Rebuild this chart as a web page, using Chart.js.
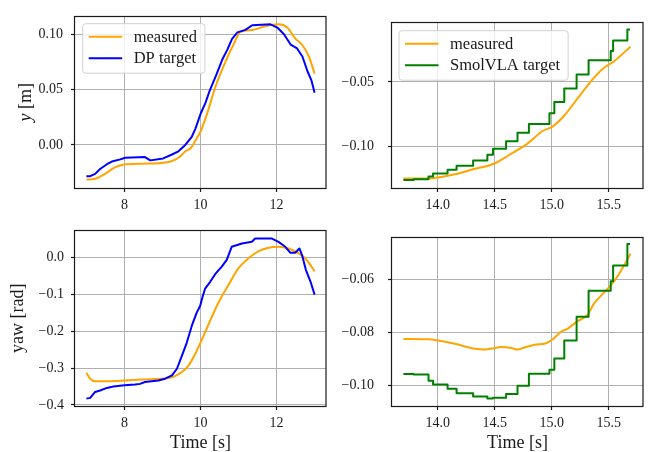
<!DOCTYPE html>
<html><head><meta charset="utf-8">
<script src="https://cdn.jsdelivr.net/npm/chart.js@4.4.1/dist/chart.umd.min.js"></script>
<style>
html,body{margin:0;padding:0;background:#fff;width:649px;height:452px;overflow:hidden}
canvas{position:absolute}
</style></head><body>
<canvas id="tl" width="330" height="215" style="left:0;top:0"></canvas>
<canvas id="tr" width="319" height="215" style="left:330px;top:0"></canvas>
<canvas id="bl" width="330" height="237" style="left:0;top:215px"></canvas>
<canvas id="br" width="319" height="237" style="left:330px;top:215px"></canvas>
<script>
// ---------- DATA ----------
// Top-left: y [m], DP policy
const tMeasY_DP = [7.0,7.23,7.49,7.75,7.93,8.1,8.5,8.89,9.25,9.45,9.6,9.74,9.87,10.0,10.1,10.2,10.39,10.66,10.88,11.05,11.36,11.71,12.06,12.28,12.5,12.68,12.85,13.0];
const measY_DP  = [-0.0314,-0.0306,-0.0262,-0.0204,-0.0181,-0.0175,-0.017,-0.0166,-0.0146,-0.011,-0.0058,-0.003,0.004,0.012,0.021,0.031,0.0524,0.0756,0.0917,0.1024,0.1039,0.1076,0.1091,0.1062,0.096,0.0902,0.08,0.0646];
const tTgtY_DP  = [7.0,7.1,7.23,7.36,7.54,7.67,7.89,8.02,8.54,8.68,9.02,9.25,9.42,9.6,9.77,9.87,10.0,10.13,10.24,10.41,10.57,10.7,10.83,10.97,11.18,11.36,11.84,12.02,12.19,12.37,12.54,12.68,12.81,12.92,13.0];
const tgtY_DP   = [-0.0283,-0.0283,-0.0262,-0.0218,-0.0175,-0.0151,-0.0131,-0.0116,-0.011,-0.014,-0.0122,-0.0087,-0.0058,0.0,0.0073,0.015,0.028,0.038,0.049,0.063,0.077,0.0858,0.096,0.1018,0.1041,0.1083,0.1091,0.1062,0.1004,0.0908,0.0873,0.08,0.0669,0.0581,0.0471];

// Bottom-left: yaw [rad], DP policy
const tMeasYaw_DP = [7.0,7.1,7.23,7.58,8.0,8.46,9.16,9.33,9.51,9.68,9.86,10.04,10.21,10.47,10.74,11.0,11.26,11.53,11.79,12.05,12.32,12.58,12.75,12.89,13.0];
const measYaw_DP  = [-0.313,-0.329,-0.336,-0.336,-0.334,-0.331,-0.327,-0.322,-0.311,-0.294,-0.262,-0.222,-0.182,-0.123,-0.074,-0.0295,-0.0027,0.017,0.026,0.0286,0.024,0.0107,-0.0027,-0.0206,-0.0385];
const tTgtYaw_DP  = [7.0,7.1,7.23,7.36,7.54,7.71,8.0,8.28,8.41,8.54,8.89,9.07,9.25,9.38,9.51,9.64,9.77,9.9,9.99,10.06,10.12,10.25,10.39,10.56,10.69,10.82,11.09,11.35,11.44,11.88,12.05,12.23,12.36,12.49,12.6,12.67,12.77,12.89,13.0];
const tgtYaw_DP   = [-0.383,-0.381,-0.365,-0.361,-0.354,-0.35,-0.347,-0.345,-0.343,-0.338,-0.334,-0.329,-0.320,-0.302,-0.267,-0.231,-0.186,-0.150,-0.132,-0.105,-0.085,-0.067,-0.045,-0.025,-0.007,0.0286,0.0376,0.042,0.051,0.051,0.042,0.0286,0.0125,0.0125,0.024,0.006,-0.034,-0.065,-0.101];

// Top-right: y [m], SmolVLA policy
const tMeasY_VLA = [13.70,13.92,14.006,14.15,14.297,14.5,14.616,14.79,14.92,15.01,15.11,15.227,15.343,15.445,15.547,15.69];
const measY_VLA  = [-0.1248,-0.1248,-0.124,-0.1216,-0.118,-0.1132,-0.1072,-0.0976,-0.088,-0.0844,-0.076,-0.0627,-0.0495,-0.0399,-0.0339,-0.0226];
// SmolVLA target: step start times (shared by both targets)
const tTgt_VLA   = [13.70,13.79,13.92,13.96,14.087,14.166,14.311,14.436,14.485,14.60,14.70,14.80,14.98,15.023,15.11,15.218,15.323,15.517,15.538,15.663,15.686];
const tgtY_VLA   = [-0.126,-0.1255,-0.1233,-0.1209,-0.118,-0.1149,-0.1108,-0.1065,-0.1017,-0.0959,-0.0894,-0.0825,-0.0743,-0.0656,-0.055,-0.0442,-0.0332,-0.026,-0.0178,-0.0094,-0.0094];

// Bottom-right: yaw [rad], SmolVLA policy
const tMeasYaw_VLA = [13.70,13.92,14.006,14.15,14.326,14.41,14.47,14.558,14.645,14.70,14.76,14.85,14.95,15.01,15.08,15.14,15.227,15.314,15.37,15.46,15.547,15.634,15.69];
const measYaw_VLA  = [-0.0825,-0.0826,-0.0831,-0.0843,-0.0862,-0.0865,-0.0861,-0.0855,-0.0859,-0.0865,-0.0857,-0.0847,-0.0841,-0.0826,-0.0798,-0.0786,-0.0758,-0.0734,-0.0692,-0.065,-0.0608,-0.0549,-0.0504];
const tgtYaw_VLA   = [-0.0957,-0.0959,-0.0982,-0.0996,-0.1012,-0.1029,-0.1041,-0.1049,-0.1046,-0.1032,-0.1001,-0.0956,-0.0941,-0.0898,-0.0831,-0.0741,-0.0644,-0.0608,-0.0549,-0.0468,-0.0468];

// Ticks
const xTicksDP = [8,10,12];
const xTickLabelsDP = ['8','10','12'];
const xTicksVLA = [14.0,14.5,15.0,15.5];
const xTickLabelsVLA = ['14.0','14.5','15.0','15.5'];
const yTicksTL = [0.0,0.05,0.10];
const yTickLabelsTL = ['0.00','0.05','0.10'];
const yTicksTR = [-0.10,-0.05];
const yTickLabelsTR = ['\u22120.10','\u22120.05'];
const yTicksBL = [-0.4,-0.3,-0.2,-0.1,0.0];
const yTickLabelsBL = ['\u22120.4','\u22120.3','\u22120.2','\u22120.1','0.0'];
const yTicksBR = [-0.10,-0.08,-0.06];
const yTickLabelsBR = ['\u22120.10','\u22120.08','\u22120.06'];

const legendDP = ['measured','DP target'];
const legendVLA = ['measured','SmolVLA target'];
const xTitle = 'Time [s]';
const yawTitle = 'yaw [rad]';

// ---------- STYLE ----------
const FONT = "'Liberation Serif', 'Times New Roman', serif";
const INK = '#1a1a1a';
const GRIDC = '#b0b0b0';
const ORANGE = '#FFA500', BLUE = '#0000FF', GREEN = '#008000';

const pts = (t, v) => t.map((x, i) => ({x, y: v[i]}));

const mplPlugin = {
  id: 'mpl',
  afterDatasetsDraw(chart) {
    const o = chart.options.plugins.mpl || {};
    const a = chart.chartArea, c = chart.ctx;
    c.save();
    if (o.legend) {
      c.font = '16.5px ' + FONT;
      const bx = a.left + o.legend.dx, by = a.top + o.legend.dy;
      let tw = 0;
      o.legend.items.forEach(it => { tw = Math.max(tw, c.measureText(it.label).width); });
      const bw = 51 + tw + 8, bh = 49.5, r = 3;
      c.beginPath();
      c.moveTo(bx + r, by); c.lineTo(bx + bw - r, by); c.arcTo(bx + bw, by, bx + bw, by + r, r);
      c.lineTo(bx + bw, by + bh - r); c.arcTo(bx + bw, by + bh, bx + bw - r, by + bh, r);
      c.lineTo(bx + r, by + bh); c.arcTo(bx, by + bh, bx, by + bh - r, r);
      c.lineTo(bx, by + r); c.arcTo(bx, by, bx + r, by, r); c.closePath();
      c.fillStyle = 'rgba(255,255,255,0.8)'; c.fill();
      c.strokeStyle = '#d0d0d0'; c.lineWidth = 1; c.stroke();
      o.legend.items.forEach((it, i) => {
        const yy = by + 13 + i * 21.5;
        c.strokeStyle = it.color; c.lineWidth = 2;
        c.beginPath(); c.moveTo(bx + 6, yy); c.lineTo(bx + 39.5, yy); c.stroke();
        c.fillStyle = INK; c.textAlign = 'left'; c.textBaseline = 'middle';
        c.fillText(it.label, bx + 51, yy + 0.5);
      });
    }
    c.restore();
  },
  afterDraw(chart) {
    const o = chart.options.plugins.mpl || {};
    const a = chart.chartArea, c = chart.ctx;
    c.save();
    c.strokeStyle = INK; c.lineWidth = 1.2;
    c.strokeRect(Math.round(a.left) - 0.5, Math.round(a.top) + 0.5, Math.round(a.right) - Math.round(a.left) + 0.5, Math.round(a.bottom) - Math.round(a.top));
    if (o.yLabelItalic) {
      const cy = (a.top + a.bottom) / 2;
      c.translate(o.yLabelItalic.x, cy);
      c.rotate(-Math.PI / 2);
      c.textBaseline = 'middle'; c.textAlign = 'left'; c.fillStyle = INK;
      c.font = 'italic 18px ' + FONT;
      const w1 = c.measureText(o.yLabelItalic.ital).width;
      c.font = '18px ' + FONT;
      const w2 = c.measureText(o.yLabelItalic.rest).width;
      const x0 = -(w1 + w2) / 2;
      c.font = 'italic 18px ' + FONT;
      c.fillText(o.yLabelItalic.ital, x0, 0);
      c.font = '18px ' + FONT;
      c.fillText(o.yLabelItalic.rest, x0 + w1, 0);
    }
    c.restore();
  }
};

function makeChart(id, cfg) {
  const gridOpts = {color: GRIDC, lineWidth: 1, tickColor: INK, tickLength: 4, tickWidth: 1.2, drawTicks: true};
  return new Chart(document.getElementById(id), {
    type: 'line',
    data: {datasets: cfg.datasets},
    options: {
      responsive: false, animation: false, devicePixelRatio: 1,
      layout: {padding: {top: cfg.padTop, right: cfg.padRight, left: 0, bottom: 0}},
      elements: {point: {radius: 0, hoverRadius: 0}, line: {borderWidth: 2, borderCapStyle: 'butt', borderJoinStyle: 'round'}},
      plugins: {legend: {display: false}, tooltip: {enabled: false}, mpl: cfg.mpl},
      events: [],
      scales: {
        x: {
          type: 'linear', position: 'bottom', min: cfg.xMin, max: cfg.xMax,
          afterBuildTicks: s => { s.ticks = cfg.xTicks.map(v => ({value: v})); },
          afterFit: s => { s.height = cfg.xH; },
          grid: gridOpts, border: {display: false},
          ticks: {font: {family: FONT, size: 14}, color: INK, padding: 4.5, maxRotation: 0, autoSkip: false,
                  callback: (v, i) => cfg.xLabels[i]},
          title: {display: !!cfg.xTitle, text: cfg.xTitle || '', font: {family: FONT, size: 18}, color: INK, padding: {top: 0, bottom: -2}}
        },
        y: {
          type: 'linear', position: 'left', min: cfg.yMin, max: cfg.yMax,
          afterBuildTicks: s => { s.ticks = cfg.yTicks.map(v => ({value: v})); },
          afterFit: s => { s.width = cfg.yW; },
          grid: gridOpts, border: {display: false},
          ticks: {font: {family: FONT, size: 14}, color: INK, padding: cfg.yPad, autoSkip: false,
                  callback: (v, i) => cfg.yLabels[i]},
          title: {display: !!cfg.yTitle, text: cfg.yTitle || '', font: {family: FONT, size: 18}, color: INK, padding: {top: 7, bottom: 0}}
        }
      }
    },
    plugins: [mplPlugin]
  });
}

function ds(label, t, v, color, stepped, smooth) {
  return {label, data: pts(t, v), borderColor: color, backgroundColor: color, fill: false,
          stepped: stepped ? 'before' : false,
          cubicInterpolationMode: smooth ? 'monotone' : 'default', tension: 0};
}

makeChart('tl', {
  padTop: 10, padRight: 4, xH: 27, yW: 75, yPad: 8,
  xMin: 6.7, xMax: 13.3, yMin: -0.039, yMax: 0.1163,
  xTicks: xTicksDP, xLabels: xTickLabelsDP, yTicks: yTicksTL, yLabels: yTickLabelsTL,
  datasets: [ds(legendDP[1], tTgtY_DP, tgtY_DP, BLUE, false, false), ds(legendDP[0], tMeasY_DP, measY_DP, ORANGE, false, true)],
  mpl: {legend: {dx: 7.7, dy: 7.3, items: [{label: legendDP[0], color: ORANGE}, {label: legendDP[1], color: BLUE}]},
        yLabelItalic: {x: 26, ital: 'y', rest: ' [m]'}}
});
makeChart('tr', {
  padTop: 10, padRight: 6, xH: 27, yW: 62, yPad: 14,
  xMin: 13.6, xMax: 15.8, yMin: -0.1322, yMax: -0.0038,
  xTicks: xTicksVLA, xLabels: xTickLabelsVLA, yTicks: yTicksTR, yLabels: yTickLabelsTR,
  datasets: [ds(legendVLA[1], tTgt_VLA, tgtY_VLA, GREEN, true, false), ds(legendVLA[0], tMeasY_VLA, measY_VLA, ORANGE, false, true)],
  mpl: {legend: {dx: 7, dy: 8.3, items: [{label: legendVLA[0], color: ORANGE}, {label: legendVLA[1], color: GREEN}]}}
});
makeChart('bl', {
  padTop: 13, padRight: 4, xH: 46, yW: 75, yPad: 7,
  xMin: 6.7, xMax: 13.3, yMin: -0.403, yMax: 0.073,
  xTicks: xTicksDP, xLabels: xTickLabelsDP, yTicks: yTicksBL, yLabels: yTickLabelsBL,
  xTitle: xTitle, yTitle: yawTitle,
  datasets: [ds(legendDP[1], tTgtYaw_DP, tgtYaw_DP, BLUE, false, false), ds(legendDP[0], tMeasYaw_DP, measYaw_DP, ORANGE, false, true)],
  mpl: {}
});
makeChart('br', {
  padTop: 13, padRight: 6, xH: 46, yW: 62, yPad: 14,
  xMin: 13.6, xMax: 15.8, yMin: -0.1077, yMax: -0.0443,
  xTicks: xTicksVLA, xLabels: xTickLabelsVLA, yTicks: yTicksBR, yLabels: yTickLabelsBR,
  xTitle: xTitle,
  datasets: [ds(legendVLA[1], tTgt_VLA, tgtYaw_VLA, GREEN, true, false), ds(legendVLA[0], tMeasYaw_VLA, measYaw_VLA, ORANGE, false, true)],
  mpl: {}
});
</script>
</body></html>
